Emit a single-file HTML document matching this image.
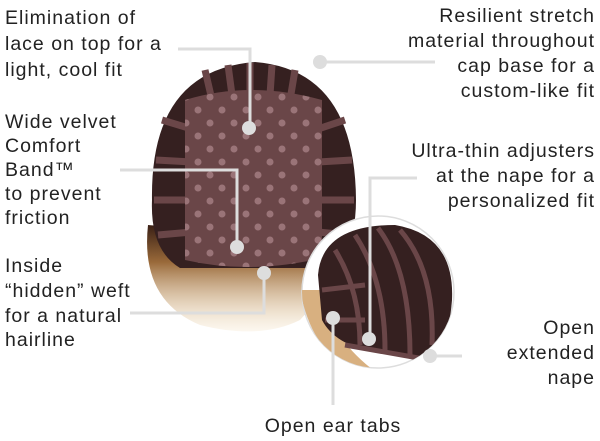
<!DOCTYPE html>
<html><head><style>
html,body{margin:0;padding:0;background:#fff;width:600px;height:441px;overflow:hidden}
.t{font-family:"Liberation Sans",sans-serif;font-size:19.5px;letter-spacing:1px;fill:#222}
</style></head><body>
<svg width="600" height="441" viewBox="0 0 600 441" xmlns="http://www.w3.org/2000/svg">
<defs>
<linearGradient id="hair" x1="0" y1="0" x2="0" y2="1">
<stop offset="0" stop-color="#3a2015"/><stop offset="0.35" stop-color="#9a6a3a"/><stop offset="1" stop-color="#f0d8b0" stop-opacity="0.2"/></linearGradient>
<pattern id="dots" width="24" height="26" patternUnits="userSpaceOnUse"><circle cx="6" cy="6" r="3.5" fill="#9a7478"/><circle cx="18" cy="19" r="3.5" fill="#9a7478"/></pattern>
<clipPath id="cc"><circle cx="378" cy="292" r="76"/></clipPath>
</defs>
<path d="M148 225 Q140 300 200 325 Q260 340 300 320 Q330 290 320 240 Z" fill="url(#hair)"/>
<path d="M152 200 Q150 70 255 62 Q355 70 356 200 Q356 250 330 268 L180 268 Q150 250 152 200 Z" fill="#352020"/>
<g stroke="#6a4648" stroke-width="7" fill="none">
<path d="M162 120 L195 130 M156 160 L192 162 M154 200 L192 200 M158 235 L192 232"/>
<path d="M345 120 L315 130 M352 160 L318 162 M354 200 L318 200 M348 235 L318 232"/>
<path d="M205 70 L212 100 M228 65 L232 95 M250 63 L250 95 M272 65 L270 95 M295 70 L290 100"/>
</g>
<path d="M185 100 Q250 80 322 100 L322 258 Q250 275 185 260 Z" fill="#6a4648"/>
<path d="M185 100 Q250 80 322 100 L322 258 Q250 275 185 260 Z" fill="url(#dots)"/>
<circle cx="378" cy="292" r="76" fill="#fff" stroke="#ddd" stroke-width="1.5"/>
<g clip-path="url(#cc)">
<path d="M300 290 Q315 370 380 375 Q330 340 322 290 Z" fill="#d8b080"/>
<path d="M318 275 Q322 225 395 225 Q455 235 452 300 Q448 350 428 362 L375 352 Q335 345 322 320 Z" fill="#352020"/>
<g stroke="#6a4648" stroke-width="5" fill="none">
<path d="M335 250 Q360 290 360 345 M355 235 Q385 280 385 350 M378 228 Q410 270 410 355 M400 230 Q435 270 432 345 M322 290 L365 285 M325 320 L365 320"/>
<path d="M345 345 L430 360"/>
</g>
</g>
<g stroke="#ddd" stroke-width="3" fill="none">
<polyline points="178,49 250,49 250,128"/>
<polyline points="120,170 237,170 237,247"/>
<polyline points="130,313 264,313 264,273"/>
<polyline points="320,62 435,62"/>
<polyline points="417,178 370,178 370,339"/>
<polyline points="333,318 333,405"/>
<polyline points="430,356 462,356"/>
</g>
<g fill="#ddd">
<circle cx="249" cy="128" r="7"/><circle cx="237" cy="247" r="7"/><circle cx="264" cy="273" r="7"/>
<circle cx="320" cy="62" r="7"/><circle cx="369" cy="339" r="7"/><circle cx="333" cy="318" r="7"/><circle cx="430" cy="356" r="7"/>
</g>
<g class="t">
<text x="5" y="24">Elimination of</text>
<text x="5" y="50">lace on top for a</text>
<text x="5" y="76">light, cool fit</text>
<text x="5" y="128">Wide velvet</text>
<text x="5" y="152">Comfort</text>
<text x="5" y="176">Band™</text>
<text x="5" y="200">to prevent</text>
<text x="5" y="224">friction</text>
<text x="5" y="272">Inside</text>
<text x="5" y="297">“hidden” weft</text>
<text x="5" y="322">for a natural</text>
<text x="5" y="346">hairline</text>
<g text-anchor="end">
<text x="595" y="22">Resilient stretch</text>
<text x="595" y="47">material throughout</text>
<text x="595" y="72">cap base for a</text>
<text x="595" y="97">custom-like fit</text>
<text x="595" y="157">Ultra-thin adjusters</text>
<text x="595" y="182">at the nape for a</text>
<text x="595" y="207">personalized fit</text>
<text x="595" y="334">Open</text>
<text x="595" y="359">extended</text>
<text x="595" y="384">nape</text>
</g>
<text x="333" y="432" text-anchor="middle">Open ear tabs</text>
</g>
</svg>
</body></html>
